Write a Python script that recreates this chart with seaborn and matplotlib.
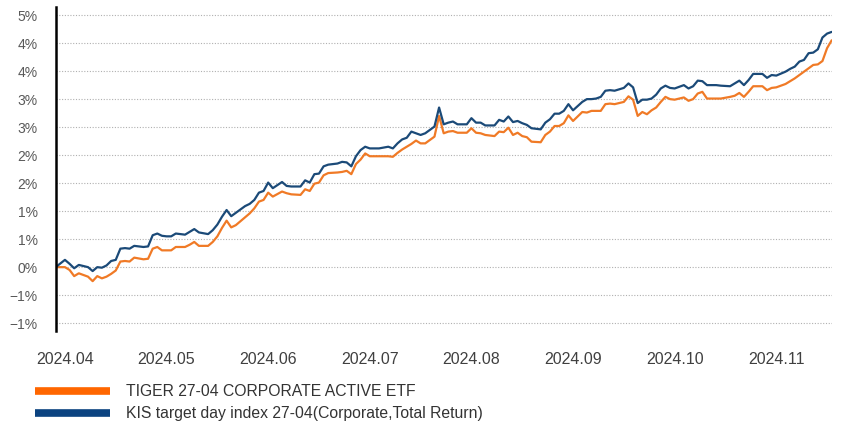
import pandas as pd
import seaborn as sns
import matplotlib.pyplot as plt
from matplotlib.lines import Line2D

# trading-day index (0 = start of the period) and cumulative return in %
day = [0, 2, 3, 4, 5, 7, 8, 9, 10, 11, 12, 13, 14, 15, 16, 17, 19, 20, 21, 22,
       23, 24, 25, 26, 28, 29, 30, 31, 33, 34, 35, 36, 37, 38, 39, 41, 42, 43, 44, 45,
       46, 47, 49, 50, 51, 53, 54, 55, 56, 57, 58, 59, 61, 62, 63, 64, 65, 66, 67, 68,
       70, 72, 73, 74, 75, 76, 77, 78, 79, 80, 82, 83, 84, 85, 86, 87, 89, 90, 91, 92,
       93, 95, 96, 97, 98, 99, 100, 101, 102, 103, 105, 106, 107, 108, 109, 110, 111, 112, 114, 115,
       116, 117, 118, 119, 120, 121, 123, 124, 125, 126, 127, 128, 129, 130, 131, 132, 133, 134, 136, 137,
       138, 139, 140, 141, 143, 144, 146, 147, 148, 149, 150, 151, 152, 153, 154, 155, 156, 158, 159, 160,
       161, 162, 163, 164, 165, 166, 167, 168]

kis_index = [0.00, 0.13, 0.06, -0.02, 0.04, 0.00, -0.07, 0.00, -0.01, 0.03, 0.11, 0.13, 0.33, 0.34, 0.33, 0.38, 0.36, 0.37, 0.57, 0.60,
             0.56, 0.55, 0.55, 0.60, 0.58, 0.63, 0.68, 0.62, 0.59, 0.66, 0.76, 0.90, 1.02, 0.91, 0.97, 1.09, 1.13, 1.20, 1.33, 1.36,
             1.51, 1.41, 1.52, 1.45, 1.44, 1.44, 1.55, 1.51, 1.66, 1.67, 1.80, 1.83, 1.85, 1.88, 1.87, 1.80, 1.98, 2.09, 2.15, 2.12,
             2.12, 2.15, 2.12, 2.21, 2.28, 2.31, 2.42, 2.39, 2.36, 2.39, 2.51, 2.85, 2.55, 2.58, 2.60, 2.55, 2.55, 2.66, 2.58, 2.58,
             2.53, 2.53, 2.63, 2.60, 2.69, 2.59, 2.61, 2.57, 2.54, 2.48, 2.46, 2.58, 2.64, 2.74, 2.74, 2.79, 2.91, 2.80, 2.95, 3.00,
             3.00, 3.01, 3.04, 3.15, 3.16, 3.15, 3.20, 3.28, 3.21, 2.93, 2.99, 2.99, 3.01, 3.08, 3.19, 3.24, 3.20, 3.19, 3.25, 3.19,
             3.23, 3.33, 3.32, 3.25, 3.25, 3.24, 3.23, 3.28, 3.33, 3.25, 3.34, 3.45, 3.45, 3.45, 3.38, 3.43, 3.42, 3.49, 3.54, 3.58,
             3.67, 3.70, 3.82, 3.83, 3.89, 4.10, 4.17, 4.20]

tiger_etf = [0.00, 0.00, -0.05, -0.16, -0.11, -0.17, -0.25, -0.16, -0.20, -0.17, -0.12, -0.06, 0.10, 0.11, 0.10, 0.17, 0.14, 0.15, 0.33, 0.36,
             0.30, 0.30, 0.30, 0.36, 0.36, 0.40, 0.45, 0.38, 0.38, 0.45, 0.55, 0.70, 0.83, 0.71, 0.75, 0.89, 0.96, 1.05, 1.17, 1.20,
             1.33, 1.26, 1.35, 1.32, 1.30, 1.29, 1.39, 1.36, 1.49, 1.51, 1.64, 1.68, 1.69, 1.70, 1.72, 1.66, 1.84, 1.92, 2.03, 1.98,
             1.98, 1.98, 1.97, 2.04, 2.10, 2.15, 2.20, 2.26, 2.21, 2.21, 2.33, 2.70, 2.39, 2.42, 2.43, 2.40, 2.40, 2.48, 2.40, 2.39,
             2.36, 2.34, 2.42, 2.41, 2.49, 2.36, 2.40, 2.34, 2.32, 2.24, 2.23, 2.36, 2.42, 2.52, 2.52, 2.57, 2.71, 2.61, 2.77, 2.76,
             2.79, 2.79, 2.79, 2.91, 2.92, 2.91, 2.95, 3.05, 2.99, 2.70, 2.77, 2.73, 2.80, 2.85, 2.95, 3.04, 3.00, 2.99, 3.03, 2.97,
             3.00, 3.10, 3.13, 3.01, 3.01, 3.01, 3.04, 3.06, 3.11, 3.04, 3.13, 3.23, 3.23, 3.23, 3.16, 3.20, 3.21, 3.27, 3.32, 3.37,
             3.43, 3.49, 3.55, 3.61, 3.62, 3.68, 3.91, 4.05]

series_names = ["TIGER 27-04 CORPORATE ACTIVE ETF",
                "KIS target day index 27-04(Corporate,Total Return)"]

month_ticks = [2, 24, 46, 68, 90, 112, 134, 156]
month_labels = ["2024.04", "2024.05", "2024.06", "2024.07",
                "2024.08", "2024.09", "2024.10", "2024.11"]

y_ticks = [-1.0, -0.5, 0.0, 0.5, 1.0, 1.5, 2.0, 2.5, 3.0, 3.5, 4.0, 4.5]
y_labels = ["\u22121%", "\u22121%", "0%", "1%", "1%", "2%", "2%",
            "3%", "3%", "4%", "4%", "5%"]


def main():
    df = pd.concat([
        pd.DataFrame({"day": day, "ret": tiger_etf, "series": series_names[0]}),
        pd.DataFrame({"day": day, "ret": kis_index, "series": series_names[1]}),
    ])

    sns.set_style("white")
    plt.rcParams["font.family"] = ["Liberation Sans", "DejaVu Sans"]

    fig = plt.figure(figsize=(8.42, 4.21), dpi=100)
    ax = fig.add_axes([55.7 / 842, 1 - 331 / 421, (831.7 - 55.7) / 842, (331 - 6.7) / 421])

    palette = {series_names[0]: "#f07a26", series_names[1]: "#1b4a78"}
    sns.lineplot(data=df, x="day", y="ret", hue="series", palette=palette,
                 linewidth=1.6, ax=ax, legend=False)

    ax.set_xlim(0, 168)
    ax.set_ylim(-1.14, 4.65)
    ax.set_xlabel("")
    ax.set_ylabel("")

    ax.set_yticks(y_ticks)
    ax.set_yticklabels(y_labels, fontsize=10, color="#595959")
    ax.set_xticks(month_ticks)
    ax.set_xticklabels(month_labels, fontsize=11.5, color="#404040")
    ax.tick_params(axis="both", length=0)
    ax.tick_params(axis="y", pad=13)
    ax.tick_params(axis="x", pad=15)

    ax.yaxis.grid(True, linestyle=(0, (1, 1.5)), color="#b0b0b0", linewidth=0.8)
    ax.xaxis.grid(False)

    for side in ["top", "right", "bottom"]:
        ax.spines[side].set_visible(False)
    ax.spines["left"].set_color("black")
    ax.spines["left"].set_linewidth(1.8)

    handles = [Line2D([0], [0], color="#ff6600", linewidth=5.5, solid_capstyle="butt"),
               Line2D([0], [0], color="#0b4380", linewidth=5.5, solid_capstyle="butt")]
    fig.legend(handles, series_names, loc="upper left",
               bbox_to_anchor=(35 / 842, 1 - 384 / 421), frameon=False,
               fontsize=11.3, handlelength=4.8, handletextpad=1.0,
               labelspacing=0.45, borderpad=0, borderaxespad=0,
               labelcolor="#333333")

    fig.savefig("out.png", dpi=100)


if __name__ == "__main__":
    main()
